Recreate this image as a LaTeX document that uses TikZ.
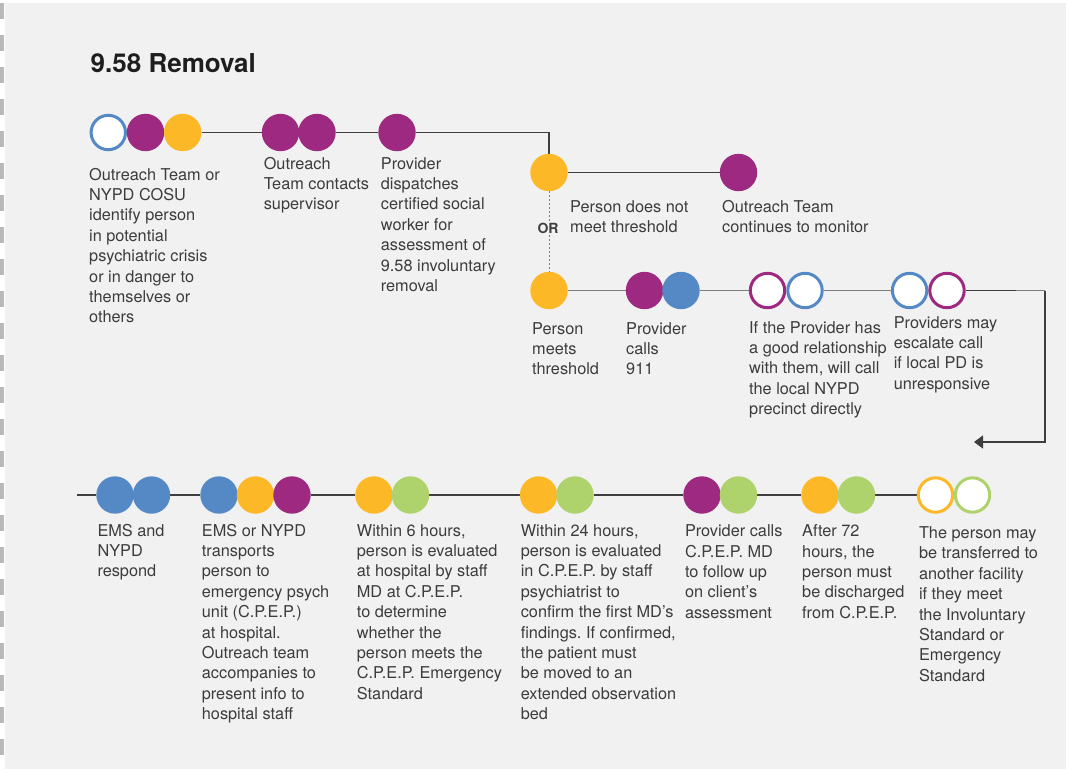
\documentclass[tikz,border=0pt]{standalone}
\usepackage{fontspec}
\setmainfont{TeX Gyre Heros}
\usetikzlibrary{arrows.meta}
\frenchspacing
\definecolor{panel}{RGB}{240,241,240}
\definecolor{stripe}{RGB}{185,185,185}
\definecolor{cpurple}{RGB}{158,41,128}
\definecolor{corange}{RGB}{253,184,39}
\definecolor{cblue}{RGB}{85,137,198}
\definecolor{cgreen}{RGB}{174,211,108}
\definecolor{txtc}{RGB}{60,60,60}
\definecolor{titlec}{RGB}{30,30,30}
\definecolor{lndark}{RGB}{62,62,62}
\definecolor{lnlight}{RGB}{125,125,125}
\newcommand{\mlines}[1]{\begin{tabular}[t]{@{}l@{}}#1\end{tabular}}
\pgfdeclarelayer{back}
\pgfdeclarelayer{bg}
\pgfsetlayers{back,bg,main}
\tikzset{
  dot/.style={circle, minimum size=37.4pt, inner sep=0pt, draw=none, fill=#1},
  ring/.style={circle, minimum size=34.4pt, inner sep=0pt, line width=3pt, draw=#1, fill=white},
  txt/.style={anchor=base west, inner sep=0pt, font=\fontsize{16.3}{20.4}\selectfont, text=txtc},
  conn/.style={draw=lndark, line width=1.3pt},
  connl/.style={draw=lnlight, line width=1.3pt},
}
\begin{document}
\begin{tikzpicture}[x=1pt,y=-1pt]
\useasboundingbox (0,0) rectangle (1066,769);
\begin{pgfonlayer}{back}
\fill[white] (0,0) rectangle (1066,769);
\fill[panel] (5.3,3.3) rectangle (1066,769);
\foreach \k in {0,...,23} {
  \fill[stripe] (0,{3+32*\k}) rectangle (4.3,{19+32*\k});
}
\end{pgfonlayer}
% title
\node[anchor=base west, inner sep=0pt, font=\fontsize{26}{30}\selectfont\bfseries, text=titlec] (title) at (90.5,72.7) {9.58 Removal};

% row 1
\node[ring=cblue] (r1a1) at (108.3,132.5) {};
\node[dot=cpurple] (r1a2) at (145.5,132.5) {};
\node[dot=corange] (r1a3) at (182.7,132.5) {};
\node[dot=cpurple] (r1b1) at (280.5,132.5) {};
\node[dot=cpurple] (r1b2) at (317,132.5) {};
\node[dot=cpurple] (r1c1) at (397,132.5) {};
\coordinate (k1) at (549,132.5);

% row 2
\node[dot=corange] (r2a) at (549,172.5) {};
\node[dot=cpurple] (r2b) at (738.5,172.5) {};

% row 3
\node[dot=corange] (r3a) at (549,290.5) {};
\node[dot=cpurple] (r3b1) at (644.5,290.5) {};
\node[dot=cblue] (r3b2) at (681,290.5) {};
\node[ring=cpurple] (r3c1) at (767.5,290.5) {};
\node[ring=cblue] (r3c2) at (805,290.5) {};
\node[ring=cblue] (r3d1) at (909.6,290.5) {};
\node[ring=cpurple] (r3d2) at (947,290.5) {};
\coordinate (k2) at (1016,290.5);
\coordinate (k3) at (1045,290.5);
\coordinate (k4) at (1045,442);
\coordinate (k5) at (974,442);

% row 4
\coordinate (k6) at (76.7,495);
\node[dot=cblue] (r4a1) at (115,495) {};
\node[dot=cblue] (r4a2) at (151.5,495) {};
\node[dot=cblue] (r4b1) at (219,495) {};
\node[dot=corange] (r4b2) at (255.5,495) {};
\node[dot=cpurple] (r4b3) at (292,495) {};
\node[dot=corange] (r4c1) at (374,495) {};
\node[dot=cgreen] (r4c2) at (410.5,495) {};
\node[dot=corange] (r4d1) at (538.6,495) {};
\node[dot=cgreen] (r4d2) at (575,495) {};
\node[dot=cpurple] (r4e1) at (702,495) {};
\node[dot=cgreen] (r4e2) at (738.5,495) {};
\node[dot=corange] (r4f1) at (820,495) {};
\node[dot=cgreen] (r4f2) at (856.5,495) {};
\node[ring=corange] (r4g1) at (935.5,495) {};
\node[ring=cgreen] (r4g2) at (972.5,495) {};

% OR label
\node[anchor=base, inner sep=1pt, fill=panel, font=\fontsize{14}{16}\selectfont\bfseries, text=lndark] (or) at (548,233) {OR};

\begin{pgfonlayer}{bg}
\draw[conn] (r1a3) -- (r1b1);
\draw[conn] (r1b2) -- (r1c1);
\draw[conn] (r1c1) -- (k1) -- (r2a);
\draw[conn] (r2a) -- (r2b);
\draw[lnlight, line width=0.9pt, dash pattern=on 2pt off 2pt] (r2a) -- (r3a);
\draw[connl] (r3a) -- (r3b1);
\draw[connl] (r3b2) -- (r3c1);
\draw[connl] (r3c2) -- (r3d1);
\draw[conn] (r3d2) -- (k2);
\draw[connl] (k2) -- (k3);
\draw[conn, -{Triangle[length=9pt,width=13pt]}] (k3) -- (k4) -- (k5);
\draw[conn] (k6) -- (r4a1);
\draw[conn] (r4a2) -- (r4b1);
\draw[conn] (r4b3) -- (r4c1);
\draw[conn] (r4c2) -- (r4d1);
\draw[conn] (r4d2) -- (r4e1);
\draw[conn] (r4e2) -- (r4f1);
\draw[conn] (r4f2) -- (r4g1);
\end{pgfonlayer}

% texts
\node[txt] (t1) at (89,180) {\mlines{Outreach Team or\\NYPD COSU\\identify person\\in potential\\psychiatric crisis\\or in danger to\\themselves or\\others}};
\node[txt] (t2) at (263.6,169) {\mlines{Outreach\\Team contacts\\supervisor}};
\node[txt] (t3) at (380.7,169) {\mlines{Provider\\dispatches\\certified social\\worker for\\assessment of\\9.58 involuntary\\removal}};
\node[txt] (t4) at (570,212) {\mlines{Person does not\\meet threshold}};
\node[txt] (t5) at (722,212) {\mlines{Outreach Team\\continues to monitor}};
\node[txt] (t6) at (532,334) {\mlines{Person\\meets\\threshold}};
\node[txt] (t7) at (626,334) {\mlines{Provider\\calls\\911}};
\node[txt] (t8) at (749,333) {\mlines{If the Provider has\\a good relationship\\with them, will call\\the local NYPD\\precinct directly}};
\node[txt] (t9) at (893.6,328) {\mlines{Providers may\\escalate call\\if local PD is\\unresponsive}};
\node[txt] (t10) at (97.3,536) {\mlines{EMS and\\NYPD\\respond}};
\node[txt] (t11) at (201.7,536) {\mlines{EMS or NYPD\\transports\\person to\\emergency psych\\unit (C.P.E.P.)\\at hospital.\\Outreach team\\accompanies to\\present info to\\hospital staff}};
\node[txt] (t12) at (356.7,536) {\mlines{Within 6 hours,\\person is evaluated\\at hospital by staff\\MD at C.P.E.P.\\to determine\\whether the\\person meets the\\C.P.E.P. Emergency\\Standard}};
\node[txt] (t13) at (520.6,536) {\mlines{Within 24 hours,\\person is evaluated\\in C.P.E.P. by staff\\psychiatrist to\\confirm the first MD’s\\findings. If confirmed,\\the patient must\\be moved to an\\extended observation\\bed}};
\node[txt] (t14) at (684.8,536.7) {\mlines{Provider calls\\C.P.E.P. MD\\to follow up\\on client’s\\assessment}};
\node[txt] (t15) at (802,536.7) {\mlines{After 72\\hours, the\\person must\\be discharged\\from C.P.E.P.}};
\node[txt] (t16) at (918.8,538.5) {\mlines{The person may\\be transferred to\\another facility\\if they meet\\the Involuntary\\Standard or\\Emergency\\Standard}};
\end{tikzpicture}
\end{document}
